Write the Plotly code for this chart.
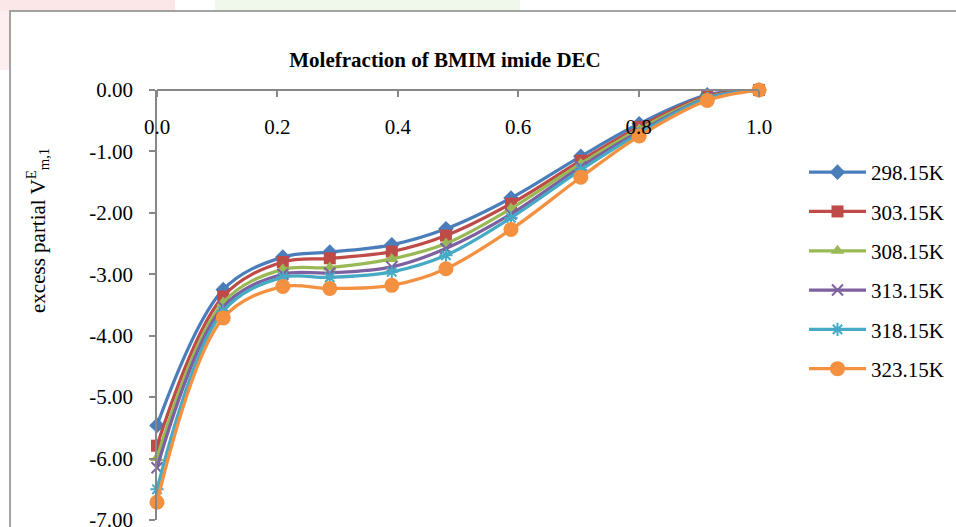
import plotly.graph_objects as go

# Mole fraction of BMIM imide in DEC
mole_fraction = [0.0, 0.110, 0.209, 0.287, 0.390, 0.480, 0.588, 0.704, 0.801, 0.914, 1.0]

# Excess partial molar volume of component 1 at each temperature
v_298 = [-5.46, -3.25, -2.72, -2.64, -2.52, -2.26, -1.76, -1.08, -0.55, -0.08, 0.0]
v_303 = [-5.79, -3.36, -2.80, -2.74, -2.63, -2.37, -1.85, -1.15, -0.60, -0.10, 0.0]
v_308 = [-5.99, -3.46, -2.92, -2.89, -2.75, -2.50, -1.93, -1.20, -0.64, -0.12, 0.0]
v_313 = [-6.15, -3.53, -3.00, -2.98, -2.88, -2.58, -2.02, -1.25, -0.68, -0.13, 0.0]
v_318 = [-6.50, -3.60, -3.05, -3.05, -2.96, -2.69, -2.08, -1.30, -0.71, -0.14, 0.0]
v_323 = [-6.71, -3.71, -3.20, -3.23, -3.18, -2.91, -2.27, -1.42, -0.75, -0.17, 0.0]

series_names = ["298.15K", "303.15K", "308.15K", "313.15K", "318.15K", "323.15K"]
series_values = [v_298, v_303, v_308, v_313, v_318, v_323]

y_tick_values = [0, -1, -2, -3, -4, -5, -6, -7]
y_tick_labels = ["0.00", "-1.00", "-2.00", "-3.00", "-4.00", "-5.00", "-6.00", "-7.00"]
x_tick_values = [0.0, 0.2, 0.4, 0.6, 0.8, 1.0]
x_tick_labels = ["0.0", "0.2", "0.4", "0.6", "0.8", "1.0"]

colors = ["#4A7EBB", "#BE4B48", "#98B954", "#7D60A0", "#46AAC5", "#F39140"]
symbols = ["diamond", "square", "triangle-up", "x-thin-open", "asterisk-open", "circle"]
marker_sizes = [12, 12, 12, 11, 11, 15]

FONT = "Liberation Serif"
AXIS_GREY = "#878787"

W, H = 956, 527
L, R, T, B = 157, 197, 90, 7
PW, PH = W - L - R, H - T - B


def px_x(px):
    return (px - L) / PW


def px_y(py):
    return (H - B - py) / PH


fig = go.Figure()
for i, (name, vals) in enumerate(zip(series_names, series_values)):
    open_sym = symbols[i].endswith("-open")
    fig.add_trace(go.Scatter(
        x=mole_fraction, y=vals, name=name, legendgroup=name,
        mode="lines+markers",
        line=dict(color=colors[i], width=3.25, shape="spline", smoothing=1.0),
        marker=dict(symbol=symbols[i], size=marker_sizes[i], color=colors[i],
                    line=dict(color=colors[i], width=2 if open_sym else 0)),
        cliponaxis=False,
    ))

# chart-area frame and faint header tint
fig.add_shape(type="rect", xref="paper", yref="paper",
              x0=px_x(0), x1=px_x(175), y0=px_y(11), y1=px_y(0),
              fillcolor="rgba(235,120,120,0.18)", line_width=0, layer="below")
fig.add_shape(type="rect", xref="paper", yref="paper",
              x0=px_x(0), x1=px_x(9), y0=px_y(70), y1=px_y(11),
              fillcolor="rgba(235,120,120,0.12)", line_width=0, layer="below")
fig.add_shape(type="rect", xref="paper", yref="paper",
              x0=px_x(215), x1=px_x(520), y0=px_y(11), y1=px_y(0),
              fillcolor="rgba(150,205,110,0.14)", line_width=0, layer="below")
fig.add_shape(type="rect", xref="paper", yref="paper",
              x0=px_x(10), x1=px_x(975), y0=px_y(545), y1=px_y(11),
              line=dict(color=AXIS_GREY, width=1.5), fillcolor="rgba(0,0,0,0)")

fig.add_annotation(
    text="excess partial V<sup>E</sup><sub>m,1</sub>",
    xref="paper", yref="paper", x=px_x(38), y=px_y(231),
    xanchor="center", yanchor="middle", textangle=-90, showarrow=False,
    font=dict(family=FONT, size=21, color="black"),
)

fig.update_layout(
    width=W, height=H,
    margin=dict(l=L, r=R, t=T, b=B, autoexpand=False),
    paper_bgcolor="white", plot_bgcolor="white",
    font=dict(family=FONT, size=21, color="black"),
    title=dict(text="<b>Molefraction of BMIM imide DEC</b>",
               xref="paper", x=px_x(445), xanchor="center",
               yref="container", y=1 - 60 / H, yanchor="middle",
               font=dict(family=FONT, size=21, color="black")),
    xaxis=dict(range=[0, 1], anchor="free", position=1, side="bottom",
               tickvals=x_tick_values, ticktext=x_tick_labels,
               showline=True, linecolor=AXIS_GREY, linewidth=1.5,
               ticks="outside", ticklen=6, tickcolor=AXIS_GREY, tickwidth=1.5,
               ticklabelstandoff=12, ticklabeloverflow="allow",
               showgrid=False, zeroline=False),
    yaxis=dict(range=[-7, 0], tickvals=y_tick_values, ticktext=y_tick_labels,
               showline=True, linecolor=AXIS_GREY, linewidth=1.5,
               ticks="outside", ticklen=6, tickcolor=AXIS_GREY, tickwidth=1.5,
               ticklabelstandoff=12, ticklabeloverflow="allow",
               showgrid=False, zeroline=False),
    legend=dict(x=px_x(804), y=px_y(152), xanchor="left", yanchor="top",
                itemwidth=57, tracegroupgap=9, bgcolor="rgba(0,0,0,0)",
                font=dict(family=FONT, size=21, color="black")),
    showlegend=True,
)

fig.write_html("out.html")
